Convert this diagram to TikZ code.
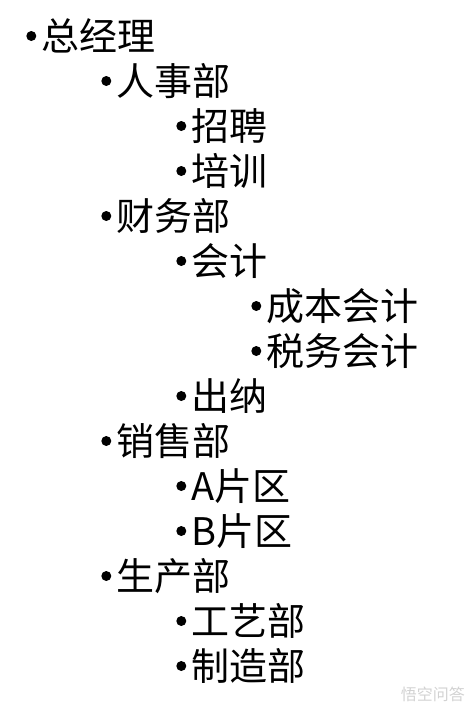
\documentclass[tikz,border=0pt]{standalone}
\usepackage{fontspec}
\setmainfont{Noto Sans CJK SC}
\usetikzlibrary{positioning}

\begin{document}
\begin{tikzpicture}[
    x=1pt, y=-1pt,
    dot/.style={circle, fill=black, inner sep=0pt, minimum size=10pt},
    entry/.style={anchor=west, inner sep=0pt, font=\fontsize{38}{40}\selectfont, label={[dot, label distance=5pt]left:{}}},
    brandtext/.style={anchor=east, inner sep=0pt, text=gray!35, font=\fontsize{16}{18}\selectfont}
]
    \useasboundingbox (0,0) rectangle (474,712);

    \node [entry] (gm)    at (41.5,36)   {总经理};
    \node [entry] (hr)    at (116.5,81)  {人事部};
    \node [entry] (hire)  at (191.5,126) {招聘};
    \node [entry] (train) at (191.5,171) {培训};
    \node [entry] (fin)   at (116.5,216) {财务部};
    \node [entry] (acct)  at (191.5,261) {会计};
    \node [entry] (cost)  at (266.5,306) {成本会计};
    \node [entry] (tax)   at (266.5,351) {税务会计};
    \node [entry] (cash)  at (191.5,396) {出纳};
    \node [entry] (sales) at (116.5,441) {销售部};
    \node [entry] (areaA) at (191.5,486) {A片区};
    \node [entry] (areaB) at (191.5,531) {B片区};
    \node [entry] (prod)  at (116.5,576) {生产部};
    \node [entry] (craft) at (191.5,621) {工艺部};
    \node [entry] (make)  at (191.5,666) {制造部};

    \node [brandtext] (brand) at (465,694) {悟空问答};
\end{tikzpicture}
\end{document}
